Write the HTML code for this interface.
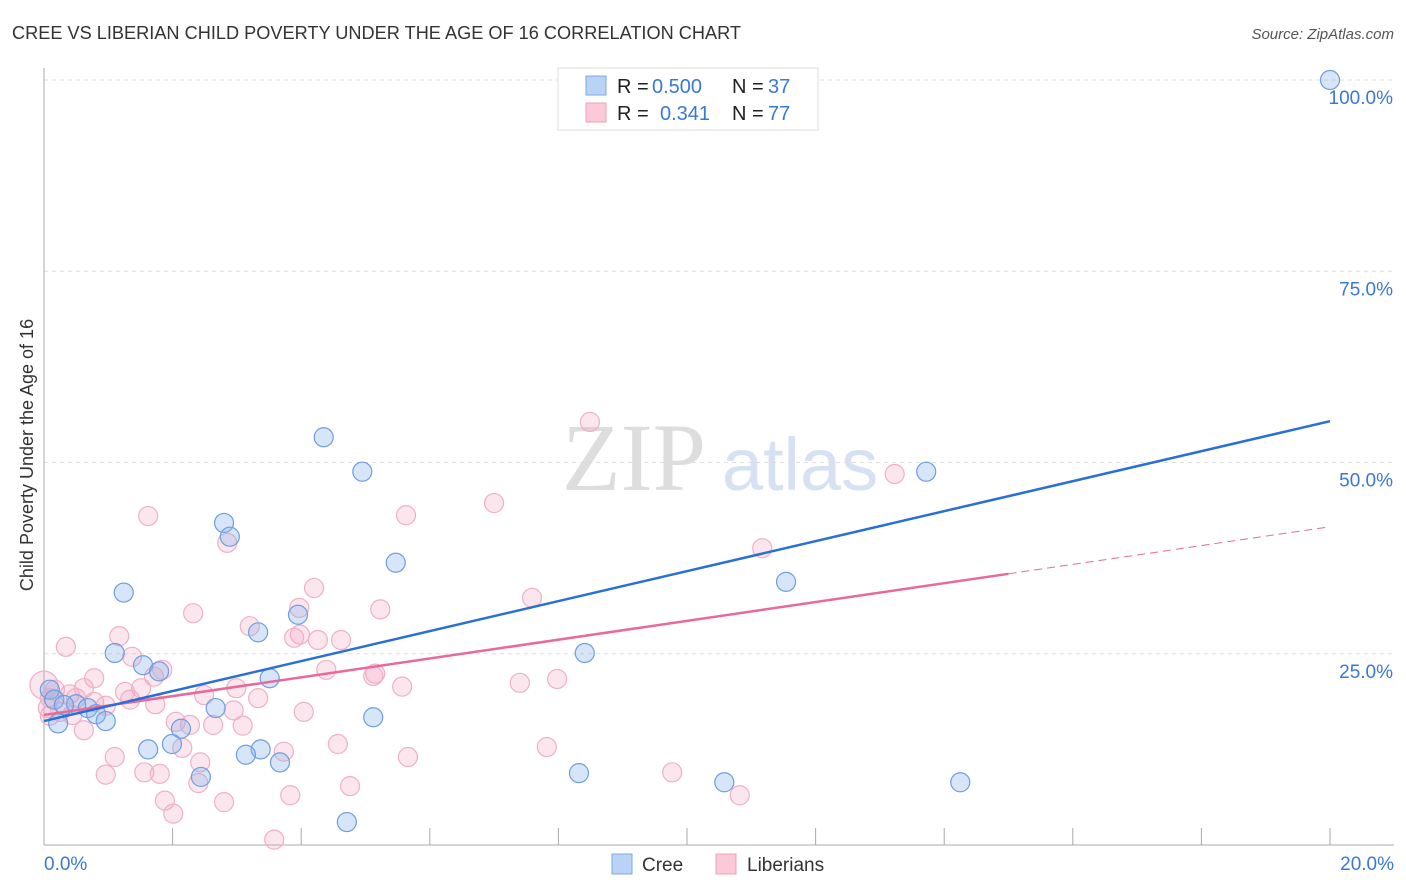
<!DOCTYPE html>
<html><head><meta charset="utf-8"><style>
body{margin:0;background:#fff;font-family:"Liberation Sans",sans-serif;}
svg{display:block}
</style></head><body>
<svg id="c" width="1406" height="892" xmlns="http://www.w3.org/2000/svg">
<text x="12" y="39" font-size="18" fill="#333" textLength="729" lengthAdjust="spacingAndGlyphs">CREE VS LIBERIAN CHILD POVERTY UNDER THE AGE OF 16 CORRELATION CHART</text>
<text x="1394" y="39" font-size="15" fill="#555" font-style="italic" text-anchor="end">Source: ZipAtlas.com</text>
<text transform="translate(33,455) rotate(-90)" font-size="18" fill="#333" text-anchor="middle">Child Poverty Under the Age of 16</text>
<g>
<text x="634" y="490" font-size="96" fill="#ddd" text-anchor="middle" font-family="Liberation Serif,serif">ZIP</text>
<text x="800" y="490" font-size="74" fill="#d6e2f3" text-anchor="middle">atlas</text>
</g>
<g id="grid"></g><g id="axes"></g><g id="pts"></g><g id="lines"></g>
<g>
<rect x="558" y="68" width="260" height="62" fill="#fff" stroke="#ddd"/>
<rect x="586" y="76" width="20" height="19" fill="#b8d3f5" stroke="#7fa9e3"/>
<rect x="586" y="103" width="20" height="19" fill="#fbc9d8" stroke="#eea0b8"/>
<g font-size="20">
<text x="617" y="93" fill="#222">R =</text><text x="652" y="93" fill="#3a78d6">0.500</text>
<text x="732" y="93" fill="#222">N =</text><text x="768" y="93" fill="#3a78d6">37</text></g>
<g font-size="20">
<text x="617" y="120" fill="#222">R =</text><text x="660" y="120" fill="#3a78d6">0.341</text>
<text x="732" y="120" fill="#222">N =</text><text x="768" y="120" fill="#3a78d6">77</text></g>
</g>
<g>
<rect x="612" y="854" width="20" height="20" fill="#b8d3f5" stroke="#7fa9e3"/>
<text x="642" y="871" font-size="19" fill="#333">Cree</text>
<rect x="716" y="854" width="20" height="20" fill="#fbc9d8" stroke="#eea0b8"/>
<text x="747" y="871" font-size="19" fill="#333">Liberians</text>
</g>
</svg>
<script>
const yTicks=[25,50,75,100];
const yTickLabels=["25.0%","50.0%","75.0%","100.0%"];
const xTicks=[0,2,4,6,8,10,12,14,16,18,20];
const creeX=[20,4.35,4.95,13.72,2.80,2.89,5.47,1.24,11.54,3.95,3.33,1.10,8.41,1.54,1.79,3.51,0.09,0.50,0.68,2.67,0.81,5.12,0.96,0.22,2.13,1.99,1.62,3.37,3.14,3.67,8.32,2.44,10.58,14.25,4.71,0.16,0.31];
const creeY=[100,53.3,48.8,48.8,42.1,40.3,36.9,33.0,34.4,30.1,27.8,25.1,25.1,23.5,22.7,21.8,20.3,18.4,17.9,17.9,17.1,16.7,16.2,15.9,15.2,13.2,12.5,12.5,11.8,10.8,9.4,8.9,8.2,8.2,3.0,19.0,18.3];
const libX=[8.49,13.23,7.00,1.62,5.63,2.85,11.17,7.59,4.20,2.32,5.23,3.97,0.34,1.17,3.20,3.98,3.89,4.26,4.62,4.39,1.37,1.84,5.15,5.12,0.78,7.98,7.40,1.71,0.62,2.99,5.57,1.26,1.51,2.49,3.33,0.17,0.40,0.09,0.50,0.78,0.96,1.34,1.73,2.95,4.04,2.05,2.27,2.63,3.09,0.44,0.62,0.06,2.15,2.43,4.57,7.82,5.66,1.10,3.73,2.40,0.96,1.56,1.80,9.77,4.76,3.83,10.82,1.88,2.80,2.01,3.58,0.09,0.25,0.0];
const libY=[55.3,48.5,44.7,43.0,43.1,39.5,38.8,32.3,33.6,30.3,30.8,31.0,25.9,27.3,28.6,27.5,27.1,26.8,26.8,22.9,24.6,22.9,22.4,22.1,21.8,21.7,21.2,22.0,20.5,20.5,20.7,20.0,20.5,19.6,19.2,20.3,19.7,19.2,19.2,18.7,18.2,19.0,18.4,17.6,17.4,16.1,15.7,15.7,15.6,17.0,15.0,17.9,12.7,10.8,13.2,12.8,11.5,11.5,12.2,8.1,9.2,9.5,9.3,9.5,7.7,6.5,6.5,5.8,5.6,4.1,0.7,16.9,17.4,20.9];
const creeTrend=[16.2,55.4];
const libTrend=[17.0,41.6];
const libSolidEnd=15.0;
const NS="http://www.w3.org/2000/svg";
const X=v=>44+v/20*1286;
const Y=v=>845-v/100*765;
function mk(t,a,p){const e=document.createElementNS(NS,t);for(const k in a)e.setAttribute(k,a[k]);document.getElementById(p).appendChild(e);return e;}
yTicks.forEach((t,i)=>{
 const g=mk('line',{x1:44,x2:1394,y1:Y(t),y2:Y(t),stroke:'#ddd','stroke-dasharray':'4,4'},'grid');
 
 
 const l=mk('text',{x:1393,y:Y(t)+24,'font-size':19,fill:'#3a78d6','text-anchor':'end'},'grid');
 l.textContent=yTickLabels[i];
 
 
});
let a=mk('line',{x1:44,x2:44,y1:68,y2:845,stroke:'#aaa'},'axes');


a=mk('line',{x1:44,x2:1394,y1:845,y2:845,stroke:'#aaa'},'axes');


xTicks.forEach(t=>{const e=mk('line',{x1:X(t),x2:X(t),y1:828,y2:845,stroke:'#aaa'},'axes');
 
 });
let t0=mk('text',{x:44,y:870,'font-size':19,fill:'#3a78d6'},'axes');t0.textContent='0.0%';


t0=mk('text',{x:1394,y:870,'font-size':19,fill:'#3a78d6','text-anchor':'end'},'axes');t0.textContent='20.0%';


libX.forEach((x,i)=>{const c=mk('circle',{cx:X(x),cy:Y(libY[i]),r:i==libX.length-1?14:9.5,fill:'rgba(245,165,195,0.28)',stroke:'#efb0c4','stroke-width':1.2},'pts');
 
 });
creeX.forEach((x,i)=>{const c=mk('circle',{cx:X(x),cy:Y(creeY[i]),r:9.5,fill:'rgba(140,180,235,0.35)',stroke:'#6f9de0','stroke-width':1.2},'pts');
 
 });
const ly=x=>libTrend[0]+(libTrend[1]-libTrend[0])*x/20;
let ln=mk('line',{x1:X(0),y1:Y(ly(0)),x2:X(libSolidEnd),y2:Y(ly(libSolidEnd)),stroke:'#e8699a','stroke-width':2.5},'lines');


ln=mk('line',{x1:X(libSolidEnd),y1:Y(ly(libSolidEnd)),x2:X(20),y2:Y(ly(20)),stroke:'#e8699a','stroke-width':1,'stroke-dasharray':'8,5'},'lines');


ln=mk('line',{x1:X(0),y1:Y(creeTrend[0]),x2:X(20),y2:Y(creeTrend[1]),stroke:'#2a6fd6','stroke-width':2.5},'lines');


</script>
</body></html>
